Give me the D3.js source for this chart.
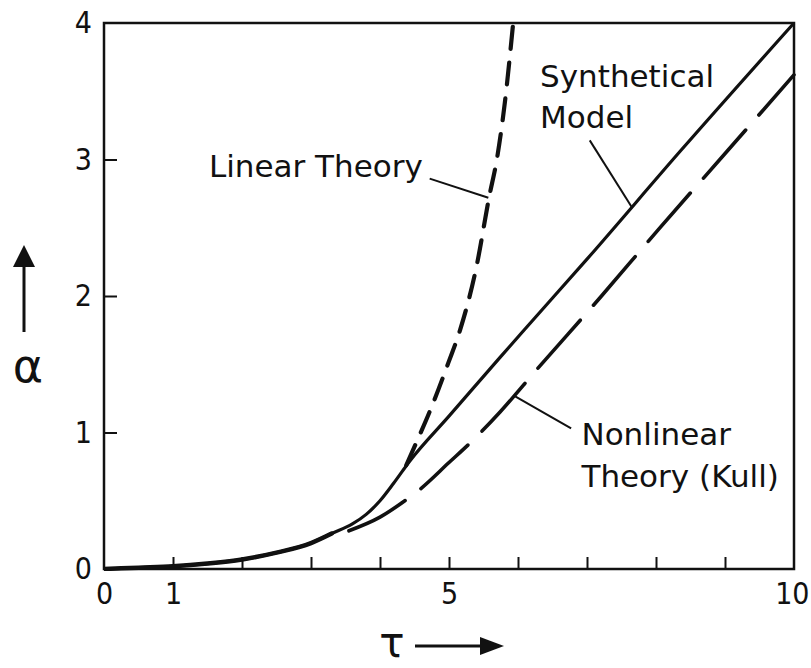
<!DOCTYPE html>
<html>
<head>
<meta charset="utf-8">
<script src="https://cdn.jsdelivr.net/npm/d3@7"></script>
<style>
  body { margin: 0; background: #fff; }
  svg { display: block; }
  text { font-family: "DejaVu Sans", sans-serif; fill: #111; }
  .cond { font-family: "DejaVu Sans Condensed", "DejaVu Sans", sans-serif; font-stretch: condensed; }
</style>
</head>
<body>
<svg id="chart" width="811" height="668"></svg>
<script>
// Growth parameter alpha versus dimensionless time tau
const tauTickValues = [1, 2, 3, 4, 5, 6, 7, 8, 9];
const tauLabelValues = [0, 1, 5, 10];
const alphaTickValues = [1, 2, 3];
const alphaLabelValues = [0, 1, 2, 3, 4];

// Synthetical model (solid), from tau = 0 up to 10
const synthTau   = [0, 0.5, 1, 1.5, 2, 2.5, 3, 3.3, 3.6, 3.8, 4.0, 4.2, 4.43, 5.0, 5.74, 6.07, 7.0, 8.35, 10];
const synthAlpha = [0, 0.01, 0.02, 0.04, 0.07, 0.12, 0.19, 0.26, 0.33, 0.40, 0.50, 0.63, 0.79, 1.12, 1.55, 1.74, 2.27, 3.06, 4.0];

// Linear theory (short dashes), branching upward
const linearTau   = [4.38, 4.53, 4.75, 4.99, 5.16, 5.40, 5.58, 5.70, 5.81, 5.93];
const linearAlpha = [0.76, 0.93, 1.19, 1.51, 1.75, 2.22, 2.72, 3.02, 3.42, 4.0];

// Nonlinear theory after Kull (long dashes)
const nonlinTau   = [3.55, 4.0, 4.36, 4.57, 5.0, 5.36, 5.74, 6.27, 7.21, 8.04, 9.03, 10];
const nonlinAlpha = [0.28, 0.38, 0.50, 0.58, 0.78, 0.95, 1.15, 1.46, 2.00, 2.49, 3.06, 3.62];

const W = 811;
const svg = d3.select("#chart");
const x = d3.scaleLinear().domain([0, 10]).range([104, 794]);
const y = d3.scaleLinear().domain([0, 4]).range([569, 23]);

const ink = "#111";

// frame
svg.append("rect")
  .attr("x", x(0)).attr("y", y(4))
  .attr("width", x(10) - x(0)).attr("height", y(0) - y(4))
  .attr("fill", "none").attr("stroke", ink).attr("stroke-width", 2.5);

// inward ticks on the bottom edge
const xTickAxis = svg.append("g")
  .attr("transform", `translate(0,${y(0)})`)
  .call(d3.axisBottom(x).tickValues(tauTickValues).tickSize(-12).tickFormat(""));
xTickAxis.select(".domain").remove();
xTickAxis.selectAll("line").attr("stroke", ink).attr("stroke-width", 2);

// bottom labels
const xLabelAxis = svg.append("g")
  .attr("transform", `translate(0,${y(0)})`)
  .call(d3.axisBottom(x).tickValues(tauLabelValues).tickSize(0).tickPadding(14).tickFormat(d3.format("d")));
xLabelAxis.select(".domain").remove();
xLabelAxis.selectAll("text")
  .attr("class", "cond").attr("font-size", 30).attr("fill", ink);
// keep the right-most label inside the page
xLabelAxis.selectAll("text").each(function () {
  const b = this.getBBox();
  const tx = x(+d3.select(this.parentNode).datum());
  const right = tx + b.x + b.width;
  if (right > W - 2) d3.select(this).attr("dx", (W - 2 - right) + "px");
});

// inward ticks on the left edge
const yTickAxis = svg.append("g")
  .attr("transform", `translate(${x(0)},0)`)
  .call(d3.axisLeft(y).tickValues(alphaTickValues).tickSize(-13).tickFormat(""));
yTickAxis.select(".domain").remove();
yTickAxis.selectAll("line").attr("stroke", ink).attr("stroke-width", 2);

// left labels
const yLabelAxis = svg.append("g")
  .attr("transform", `translate(${x(0)},0)`)
  .call(d3.axisLeft(y).tickValues(alphaLabelValues).tickSize(0).tickPadding(12).tickFormat(d3.format("d")));
yLabelAxis.select(".domain").remove();
yLabelAxis.selectAll("text")
  .attr("class", "cond").attr("font-size", 30).attr("fill", ink);

// curves
const line = d3.line().x(d => x(d[0])).y(d => y(d[1])).curve(d3.curveMonotoneX);
const zip = (a, b) => a.map((v, i) => [v, b[i]]);

svg.append("clipPath").attr("id", "plotClip")
  .append("rect").attr("x", x(0)).attr("y", y(4) - 2)
  .attr("width", x(10) - x(0) + 2).attr("height", y(0) - y(4) + 4);

const curves = svg.append("g").attr("clip-path", "url(#plotClip)");

// shared low-tau section drawn heavier where the curves coincide
const shared = zip(synthTau, synthAlpha).filter(d => d[0] <= 3.3);
curves.append("path").attr("d", line(shared))
  .attr("fill", "none").attr("stroke", ink).attr("stroke-width", 4.5).attr("stroke-linecap", "round");

curves.append("path").attr("d", line(zip(synthTau, synthAlpha)))
  .attr("fill", "none").attr("stroke", ink).attr("stroke-width", 3.2);

curves.append("path").attr("d", line(zip(linearTau, linearAlpha)))
  .attr("fill", "none").attr("stroke", ink).attr("stroke-width", 4.2)
  .attr("stroke-linecap", "round").attr("stroke-dasharray", "22,14");

curves.append("path").attr("d", line(zip(nonlinTau, nonlinAlpha)))
  .attr("fill", "none").attr("stroke", ink).attr("stroke-width", 3.6)
  .attr("stroke-linecap", "round").attr("stroke-dasharray", "64,20");

// annotations: leader lines and labels
const leaders = [
  [[4.72, 2.86], [5.57, 2.72]],
  [[7.04, 3.14], [7.65, 2.65]],
  [[5.94, 1.27], [6.77, 1.03]]
];
svg.selectAll(".leader").data(leaders).join("line")
  .attr("class", "leader")
  .attr("x1", d => x(d[0][0])).attr("y1", d => y(d[0][1]))
  .attr("x2", d => x(d[1][0])).attr("y2", d => y(d[1][1]))
  .attr("stroke", ink).attr("stroke-width", 2);

const notes = [
  { t: "Linear Theory", tau: 1.52, a: 2.87 },
  { t: "Synthetical", tau: 6.32, a: 3.53 },
  { t: "Model", tau: 6.32, a: 3.23 },
  { t: "Nonlinear", tau: 6.92, a: 0.91 },
  { t: "Theory (Kull)", tau: 6.92, a: 0.60 }
];
svg.selectAll(".note").data(notes).join("text")
  .attr("class", "note")
  .attr("x", d => x(d.tau)).attr("y", d => y(d.a))
  .attr("font-size", 31)
  .text(d => d.t);

// axis titles with direction arrows
svg.append("text").attr("x", 28).attr("y", 382).attr("text-anchor", "middle")
  .attr("font-size", 46).text("α");
svg.append("line").attr("x1", 24).attr("x2", 24).attr("y1", 332).attr("y2", 262)
  .attr("stroke", ink).attr("stroke-width", 3);
svg.append("path").attr("d", "M24,245 L13,267 L35,267 Z").attr("fill", ink);

svg.append("text").attr("x", 392).attr("y", 657).attr("text-anchor", "middle")
  .attr("font-size", 42).text("τ");
svg.append("line").attr("x1", 415).attr("x2", 482).attr("y1", 646).attr("y2", 646)
  .attr("stroke", ink).attr("stroke-width", 3);
svg.append("path").attr("d", "M504,646 L480,637 L480,655 Z").attr("fill", ink);
</script>
</body>
</html>
